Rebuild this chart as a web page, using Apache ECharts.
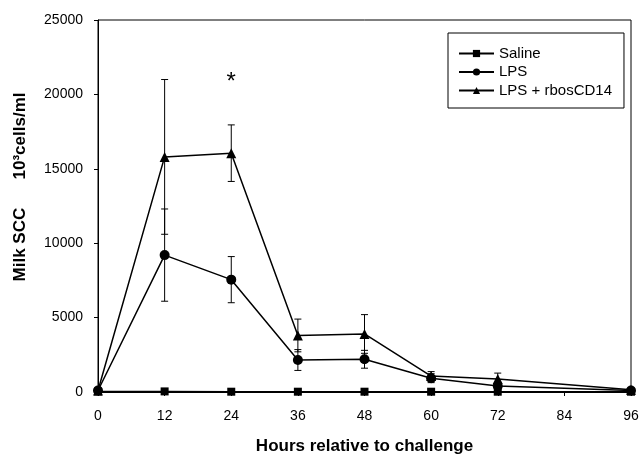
<!DOCTYPE html>
<html>
<head>
    <meta charset="utf-8" />
    <title>Milk SCC</title>
    <style>
        html, body { margin: 0; padding: 0; background: #fff; }
        #charts { width: 641px; height: 455px; }
    </style>
</head>
<body>
    <div id="charts"></div>
    <script src="https://cdn.jsdelivr.net/npm/echarts@6/dist/echarts.min.js"></script>
    <script type="text/javascript">
        // 数据
        var hours = [0, 12, 24, 36, 48, 60, 72, 96];
        var saline = [30, 40, 20, 20, 20, 20, 20, 20];
        var lps = [100, 9200, 7550, 2150, 2200, 930, 400, 100];
        var lpsErr = [50, 3100, 1550, 700, 600, 300, 250, 50];
        var cd14 = [100, 15800, 16050, 3800, 3900, 1070, 870, 150];
        var cd14Err = [50, 5200, 1900, 1100, 1300, 300, 400, 50];
        var seriesNames = ['Saline', 'LPS', 'LPS + rbosCD14'];
        var xTicks = [0, 96, 12];      // min, max, interval
        var yTicks = [0, 25000, 5000];

        function pairs(ys) {
            var out = [];
            for (var i = 0; i < hours.length; i++) out.push([hours[i], ys[i]]);
            return out;
        }
        function errData(ys, es) {
            var out = [];
            for (var i = 0; i < hours.length; i++) out.push([hours[i], ys[i] - es[i], ys[i] + es[i]]);
            return out;
        }
        // 误差棒
        function renderErr(params, api) {
            var lo = api.coord([api.value(0), api.value(1)]);
            var hi = api.coord([api.value(0), api.value(2)]);
            var w = 3.5;
            var st = { stroke: '#000', lineWidth: 1 };
            return {
                type: 'group',
                children: [
                    { type: 'line', shape: { x1: lo[0], y1: lo[1], x2: hi[0], y2: hi[1] }, style: st },
                    { type: 'line', shape: { x1: lo[0] - w, y1: lo[1], x2: lo[0] + w, y2: lo[1] }, style: st },
                    { type: 'line', shape: { x1: hi[0] - w, y1: hi[1], x2: hi[0] + w, y2: hi[1] }, style: st }
                ]
            };
        }

        var font = '"Liberation Sans", Arial, sans-serif';
        var myChart = echarts.init(document.getElementById('charts'));

        var lineBase = {
            type: 'line',
            lineStyle: { color: '#000', width: 1.5 },
            itemStyle: { color: '#000' },
            animation: false,
            z: 3
        };

        var option = {
            animation: false,
            textStyle: { fontFamily: font },
            grid: {
                left: 98, right: 10, top: 20, bottom: 63,
                outerBoundsMode: 'none',
                containLabel: false,
                show: true, borderColor: '#000', borderWidth: 1
            },
            legend: {
                data: seriesNames,
                orient: 'vertical',
                left: 448, top: 33,
                padding: [13, 12, 10, 10],
                itemGap: 3.5,
                itemWidth: 35, itemHeight: 9,
                borderColor: '#000', borderWidth: 1,
                backgroundColor: '#fff',
                textStyle: { fontSize: 15, color: '#000', fontFamily: font }
            },
            xAxis: {
                type: 'value',
                min: xTicks[0], max: xTicks[1], interval: xTicks[2],
                name: 'Hours relative to challenge',
                nameLocation: 'middle', nameGap: 46,
                nameTextStyle: { fontSize: 17, fontWeight: 'bold', color: '#000', fontFamily: font },
                axisLine: { lineStyle: { color: '#000' } },
                axisTick: { show: true, length: 4, lineStyle: { color: '#000' } },
                axisLabel: { fontSize: 14, color: '#000', margin: 17, fontFamily: font },
                splitLine: { show: false }
            },
            yAxis: {
                type: 'value',
                min: yTicks[0], max: yTicks[1], interval: yTicks[2],
                axisLine: { show: true, lineStyle: { color: '#000' } },
                axisTick: { show: true, length: 4, lineStyle: { color: '#000' } },
                axisLabel: {
                    fontSize: 14, color: '#000', margin: 15, fontFamily: font,
                    formatter: function (v) { return String(v); }
                },
                splitLine: { show: false }
            },
            graphic: [
                {
                    type: 'text',
                    x: 20, y: 187,
                    rotation: Math.PI / 2,
                    style: {
                        text: 'Milk SCC      10³cells/ml',
                        fontSize: 17, fontWeight: 'bold', fill: '#000',
                        fontFamily: font,
                        align: 'center', verticalAlign: 'middle'
                    }
                }
            ],
            series: [
                {
                    type: 'custom', name: 'lpsErr', renderItem: renderErr,
                    data: errData(lps, lpsErr), z: 2, silent: true
                },
                {
                    type: 'custom', name: 'cd14Err', renderItem: renderErr,
                    data: errData(cd14, cd14Err), z: 2, silent: true
                },
                Object.assign({}, lineBase, {
                    name: seriesNames[0], data: pairs(saline),
                    symbol: 'rect', symbolSize: 8
                }),
                Object.assign({}, lineBase, {
                    name: seriesNames[1], data: pairs(lps),
                    symbol: 'circle', symbolSize: 10
                }),
                Object.assign({}, lineBase, {
                    name: seriesNames[2], data: pairs(cd14),
                    symbol: 'triangle', symbolSize: 10,
                    markPoint: {
                        symbol: 'circle', symbolSize: 0,
                        data: [{ coord: [24, 20800] }],
                        label: {
                            show: true, formatter: '*', position: 'inside',
                            fontSize: 24, color: '#000', fontFamily: font
                        }
                    }
                })
            ]
        };
        myChart.setOption(option);
    </script>
</body>
</html>
